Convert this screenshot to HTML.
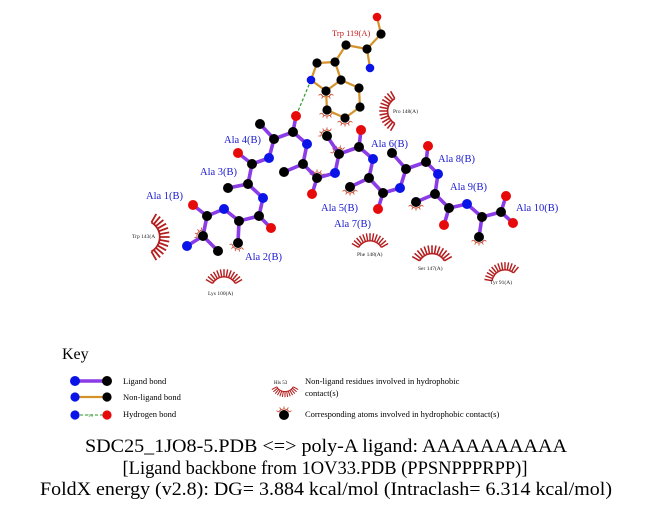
<!DOCTYPE html>
<html><head><meta charset="utf-8"><style>
html,body{margin:0;padding:0;background:#fff;}
svg{display:block;}
text{font-family:"Liberation Serif",serif;}
</style></head><body>
<svg width="651" height="511" viewBox="0 0 651 511" xmlns="http://www.w3.org/2000/svg">
<defs>
<g id="hb" fill="none" stroke="#b41e1e" stroke-width="1.3">
<path d="M-10.39,-6 A12,12 0 0 1 10.39,-6"/>
<path d="M-10.39,-6L-16.45,-9.5M-9.19,-7.71L-14.55,-12.21M-7.71,-9.19L-12.21,-14.55M-6,-10.39L-9.5,-16.45M-4.1,-11.28L-6.5,-17.85M-2.08,-11.82L-3.3,-18.71M0,-12L0,-19M10.39,-6L16.45,-9.5M9.19,-7.71L14.55,-12.21M7.71,-9.19L12.21,-14.55M6,-10.39L9.5,-16.45M4.1,-11.28L6.5,-17.85M2.08,-11.82L3.3,-18.71"/>
</g>
<g id="sm" fill="none" stroke="#c83c1e" stroke-width="0.8">
<path d="M-5.2,-3 A6,6 0 0 1 5.2,-3"/>
<path d="M-5.2,-3L-7.5,-4.3M-3,-5.2L-4.3,-7.5M0,-6L0,-8.6M5.2,-3L7.5,-4.3M3,-5.2L4.3,-7.5"/>
</g>
</defs>

<use href="#hb" transform="translate(224,290) scale(1.1)"/>
<use href="#hb" transform="translate(370,254) scale(1.1)"/>
<use href="#hb" transform="translate(432,268) scale(1.2)"/>
<use href="#hb" transform="translate(505,283) rotate(-20) scale(1.1)"/>
<use href="#hb" transform="translate(143,237) rotate(90) scale(1.4)"/>
<use href="#hb" transform="translate(402,111) rotate(-90) scale(1.2)"/>
<use href="#hb" transform="translate(285,382) rotate(180) scale(0.8)"/>

<g font-size="5.5" fill="#222">
<text x="393" y="113">Pro 148(A)</text>
<text x="132" y="238">Trp 143(A</text>
<text x="208" y="295">Lys 100(A)</text>
<text x="357" y="256">Phe 148(A)</text>
<text x="418" y="270">Ser 147(A)</text>
<text x="490" y="284">Tyr 91(A)</text>
</g>

<use href="#sm" transform="translate(327,136) rotate(-30)"/>
<use href="#sm" transform="translate(339,154) rotate(-20)"/>
<use href="#sm" transform="translate(317,178) rotate(0)"/>
<use href="#sm" transform="translate(350,187) rotate(180)"/>
<use href="#sm" transform="translate(203,236) rotate(-40)"/>
<use href="#sm" transform="translate(238,243) rotate(200)"/>
<use href="#sm" transform="translate(479,237) rotate(180)"/>
<use href="#sm" transform="translate(416,202) rotate(180)"/>
<use href="#sm" transform="translate(327,110) rotate(180)"/>
<use href="#sm" transform="translate(345,118) rotate(180)"/>
<use href="#sm" transform="translate(326,91) rotate(180)"/>
<use href="#sm" transform="translate(284,415)"/>

<g stroke="#d4922a" stroke-width="2.2" fill="none" stroke-linecap="round">
<path d="M377,17L381,34L367,49L370,68M367,49L346,45L335,62L317,63L311,80L326,91L341,80L335,62M341,80L359,88L360,107L345,118L327,110L326,91"/>
</g>
<line x1="311" y1="80" x2="296" y2="116" stroke="#2a9a2a" stroke-width="1.2" stroke-dasharray="3,2"/>

<g stroke="#8a3ce6" stroke-width="3.6" fill="none" stroke-linecap="round" stroke-linejoin="round">
<path d="M193,205L207,216L224,209L239,221L259,216L263,198L248,184L252,164L269,158L274,139L293,132L307,144L303,164L317,178L335,173L339,154L359,147L373,159L369,178L383,193L400,188L406,169L426,162L438,174L435,194L449,208L467,204L482,217L501,212"/>
<path d="M207,216L203,236L187,246M203,236L218,251M239,221L238,243M259,216L271,228M248,184L228,188M252,164L238,153M274,139L260,124M293,132L296,116M303,164L284,172M317,178L312,194M339,154L327,136M359,147L361,130M369,178L350,187M383,193L378,209M406,169L392,153M426,162L428,146M435,194L416,202M449,208L444,225M482,217L479,237M501,212L506,196M501,212L513,223"/>
</g>

<g fill="#000">
<circle cx="381" cy="34" r="4.6"/><circle cx="367" cy="49" r="4.6"/><circle cx="346" cy="45" r="4.6"/><circle cx="335" cy="62" r="4.6"/><circle cx="317" cy="63" r="4.6"/><circle cx="326" cy="91" r="4.6"/><circle cx="341" cy="80" r="4.6"/><circle cx="359" cy="88" r="4.6"/><circle cx="360" cy="107" r="4.6"/><circle cx="345" cy="118" r="4.6"/><circle cx="327" cy="110" r="4.6"/>
<circle cx="207" cy="216" r="5"/><circle cx="203" cy="236" r="5"/><circle cx="218" cy="251" r="5"/><circle cx="239" cy="221" r="5"/><circle cx="238" cy="243" r="5"/><circle cx="259" cy="216" r="5"/><circle cx="248" cy="184" r="5"/><circle cx="228" cy="188" r="5"/><circle cx="252" cy="164" r="5"/><circle cx="274" cy="139" r="5"/><circle cx="260" cy="124" r="5"/><circle cx="293" cy="132" r="5"/><circle cx="303" cy="164" r="5"/><circle cx="284" cy="172" r="5"/><circle cx="317" cy="178" r="5"/><circle cx="339" cy="154" r="5"/><circle cx="327" cy="136" r="5"/><circle cx="359" cy="147" r="5"/><circle cx="369" cy="178" r="5"/><circle cx="350" cy="187" r="5"/><circle cx="383" cy="193" r="5"/><circle cx="406" cy="169" r="5"/><circle cx="392" cy="153" r="5"/><circle cx="426" cy="162" r="5"/><circle cx="435" cy="194" r="5"/><circle cx="416" cy="202" r="5"/><circle cx="449" cy="208" r="5"/><circle cx="482" cy="217" r="5"/><circle cx="479" cy="237" r="5"/><circle cx="501" cy="212" r="5"/>
</g>
<g fill="#0a14e6">
<circle cx="370" cy="68" r="4.3"/><circle cx="311" cy="80" r="4.3"/>
<circle cx="224" cy="209" r="5"/><circle cx="187" cy="246" r="5"/><circle cx="263" cy="198" r="5"/><circle cx="269" cy="158" r="5"/><circle cx="307" cy="144" r="5"/><circle cx="335" cy="173" r="5"/><circle cx="373" cy="159" r="5"/><circle cx="400" cy="188" r="5"/><circle cx="438" cy="174" r="5"/><circle cx="467" cy="204" r="5"/>
</g>
<g fill="#e60a0a">
<circle cx="377" cy="17" r="4.3"/>
<circle cx="193" cy="205" r="5"/><circle cx="271" cy="228" r="5"/><circle cx="238" cy="153" r="5"/><circle cx="296" cy="116" r="5"/><circle cx="312" cy="194" r="5"/><circle cx="361" cy="130" r="5"/><circle cx="378" cy="209" r="5"/><circle cx="428" cy="146" r="5"/><circle cx="444" cy="225" r="5"/><circle cx="506" cy="196" r="5"/><circle cx="513" cy="223" r="5"/>
</g>

<text x="332" y="36" font-size="8.5" fill="#c81e1e">Trp 119(A)</text>
<g font-size="10.5" fill="#1a1ad0">
<text x="224" y="143">Ala 4(B)</text>
<text x="200" y="175">Ala 3(B)</text>
<text x="146" y="199">Ala 1(B)</text>
<text x="245" y="260">Ala 2(B)</text>
<text x="321" y="211">Ala 5(B)</text>
<text x="334" y="227">Ala 7(B)</text>
<text x="371" y="147">Ala 6(B)</text>
<text x="438" y="162">Ala 8(B)</text>
<text x="450" y="190">Ala 9(B)</text>
<text x="516" y="211">Ala 10(B)</text>
</g>

<text x="62" y="359" font-size="16" fill="#000">Key</text>
<line x1="75" y1="381" x2="107" y2="381" stroke="#8a3ce6" stroke-width="3.6"/>
<circle cx="75" cy="381" r="5" fill="#0a14e6"/><circle cx="107" cy="381" r="5" fill="#000"/>
<line x1="75" y1="397" x2="107" y2="397" stroke="#d4922a" stroke-width="2.2"/>
<circle cx="75" cy="397" r="4.6" fill="#0a14e6"/><circle cx="107" cy="397" r="4.6" fill="#000"/>
<line x1="75" y1="415" x2="107" y2="415" stroke="#2a9a2a" stroke-width="1" stroke-dasharray="3,2"/>
<text x="88" y="417" font-size="4" fill="#2a9a2a">3.0</text>
<circle cx="75" cy="415" r="4.6" fill="#0a14e6"/><circle cx="107" cy="415" r="4.6" fill="#e60a0a"/>
<g font-size="8.5" fill="#000">
<text x="123" y="384">Ligand bond</text>
<text x="123" y="400">Non-ligand bond</text>
<text x="123" y="417">Hydrogen bond</text>
<text x="305" y="384">Non-ligand residues involved in hydrophobic</text>
<text x="305" y="396">contact(s)</text>
<text x="305" y="417">Corresponding atoms involved in hydrophobic contact(s)</text>
</g>
<text x="274" y="384" font-size="5" fill="#000">His 53</text>
<circle cx="284" cy="415" r="5" fill="#000"/>

<g font-size="19" fill="#000" text-anchor="middle">
<text x="326" y="452" textLength="482" lengthAdjust="spacingAndGlyphs">SDC25_1JO8-5.PDB &lt;=&gt; poly-A ligand: AAAAAAAAAA</text>
<text x="325" y="474" textLength="405" lengthAdjust="spacingAndGlyphs">[Ligand backbone from 1OV33.PDB (PPSNPPPRPP)]</text>
<text x="326" y="495" textLength="572" lengthAdjust="spacingAndGlyphs">FoldX energy (v2.8): DG= 3.884 kcal/mol (Intraclash= 6.314 kcal/mol)</text>
</g>
</svg>
</body></html>
